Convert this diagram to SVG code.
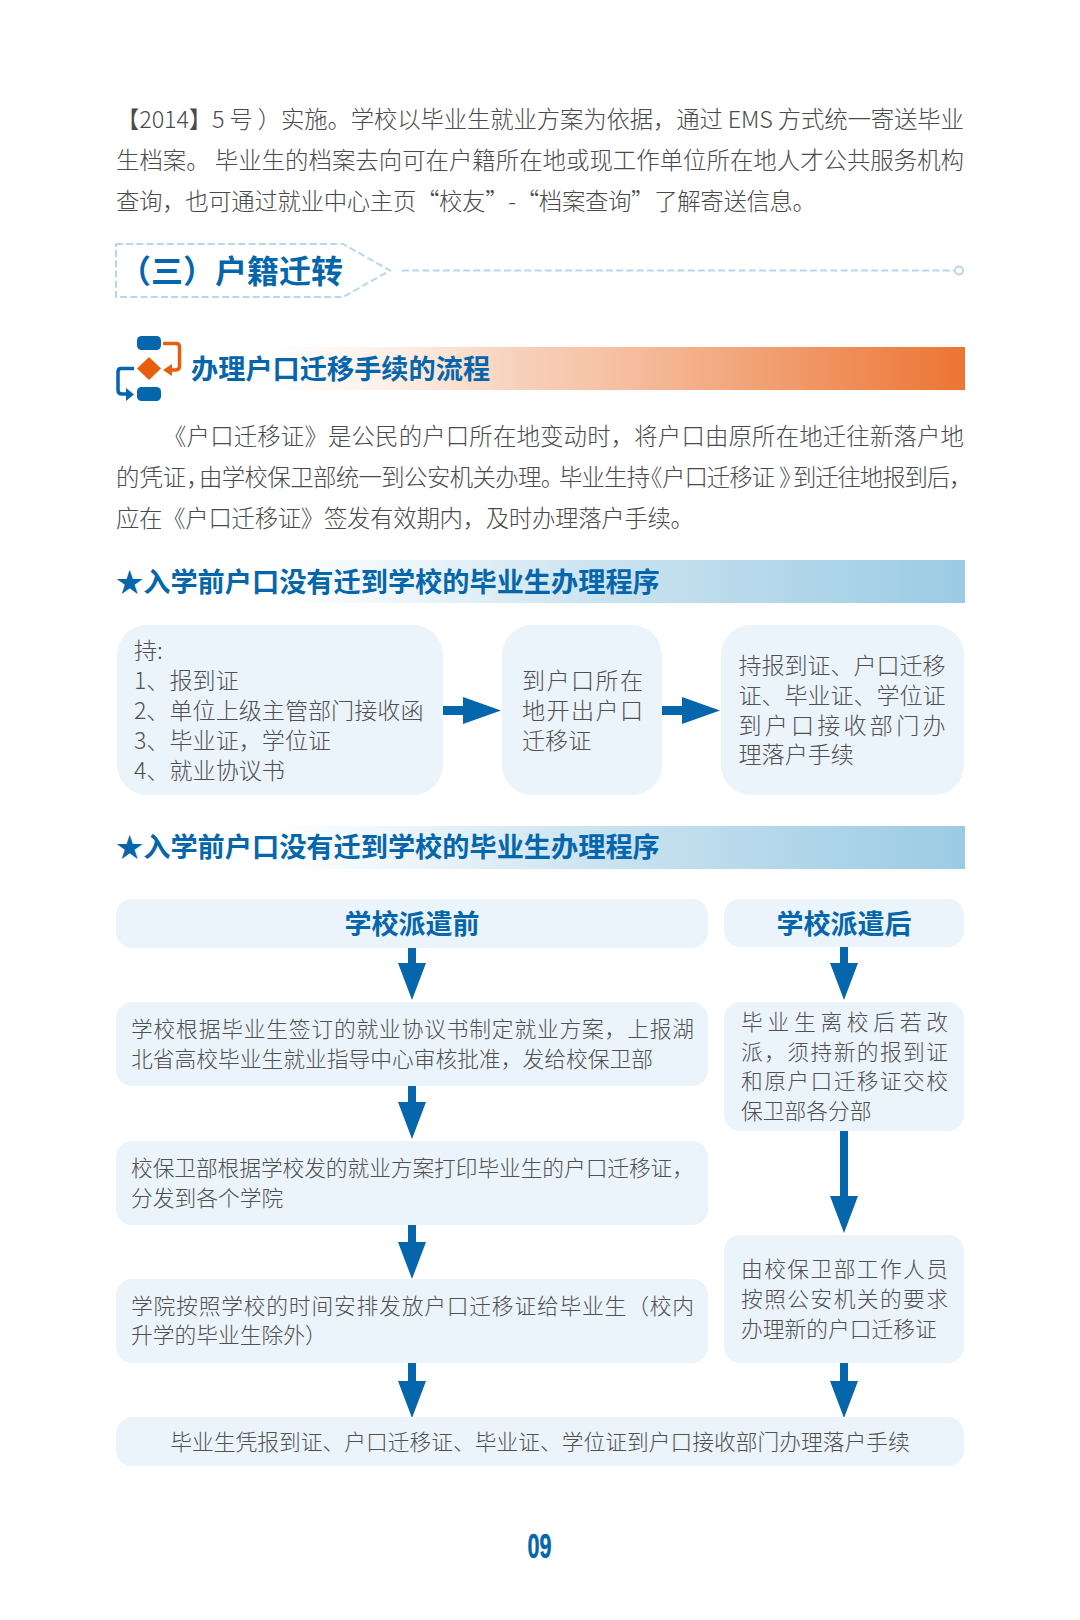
<svg xmlns="http://www.w3.org/2000/svg" width="1080" height="1620" viewBox="0 0 1080 1620">
<style>
text{font-family:"Noto Sans CJK SC","Noto Sans",sans-serif}
.b{font-size:23.4px;font-weight:300;fill:#4a4a4a}
.n{font-size:23.1px;font-weight:300;fill:#505050}
.s{font-size:21.75px;font-weight:300;fill:#505050}
.h{font-weight:700;fill:#0666ab}
.box{fill:#eaf4fa}
.a{fill:#0666ab}
.dash{fill:none;stroke:#b5d8ec;stroke-width:2;stroke-dasharray:7 3.2}
</style>
<defs>
<linearGradient id="og" gradientUnits="userSpaceOnUse" x1="270" y1="0" x2="965" y2="0"><stop offset="0" stop-color="#fff"/><stop offset=".187" stop-color="#fdeee5"/><stop offset=".36" stop-color="#f7d0ba"/><stop offset=".475" stop-color="#f6c3a7"/><stop offset="1" stop-color="#ec7533"/></linearGradient>
<linearGradient id="bg" gradientUnits="userSpaceOnUse" x1="116" y1="0" x2="965" y2="0"><stop offset="0" stop-color="#fff"/><stop offset=".18" stop-color="#fff"/><stop offset=".33" stop-color="#eef6fb"/><stop offset=".57" stop-color="#cbe3f0"/><stop offset="1" stop-color="#9bcbe4"/></linearGradient>
</defs>
<g id="intro">
<text class="b" x="116" y="128" textLength="848">【2014】5 号 ）实施。学校以毕业生就业方案为依据，通过 EMS 方式统一寄送毕业</text>
<text class="b" x="116" y="169" textLength="848">生档案。 毕业生的档案去向可在户籍所在地或现工作单位所在地人才公共服务机构</text>
<text class="b" x="116" y="210" textLength="700">查询，也可通过就业中心主页“校友”-“档案查询”了解寄送信息。</text>
</g>
<g id="section-title">
<path class="dash" d="M116 244H343L390 270.5L343 297H116Z"/>
<path class="dash" d="M402 270.5H954"/>
<circle cx="959" cy="270.5" r="4" fill="#fff" stroke="#b5d8ec" stroke-width="2"/>
<text class="h" x="119" y="283" font-size="32">（三）户籍迁转</text>
</g>
<g id="flow-heading">
<rect x="270" y="347" width="695" height="43" fill="url(#og)"/>
<rect x="137" y="336" width="24" height="14" rx="4.5" fill="#0666ab"/>
<rect x="137" y="387" width="24" height="14" rx="4.5" fill="#0666ab"/>
<path d="M149 357L161 368.5L149 380L137 368.5Z" fill="#e85e0f"/>
<path d="M163 343.500H176Q179.500 343.500 179.500 347V366Q179.500 370 175 370H170" fill="none" stroke="#e85e0f" stroke-width="3.500"/>
<path d="M163 370L172 364V376Z" fill="#e85e0f"/>
<path d="M134 368.500H121Q118 368.500 118 372V390Q118 394 122 394H128" fill="none" stroke="#0666ab" stroke-width="3.500"/>
<path d="M134 394.500L126 388V401Z" fill="#0666ab"/>
<text class="h" x="191" y="379" font-size="27.2">办理户口迁移手续的流程</text>
</g>
<g id="para">
<text class="b" x="163" y="444.500" textLength="801">《户口迁移证》是公民的户口所在地变动时，将户口由原所在地迁往新落户地</text>
<text class="b" y="486"><tspan x="116">的凭证，</tspan><tspan x="199" letter-spacing="-.6">由学校保卫部统一到公安机关办理。</tspan><tspan x="559" letter-spacing="-.9">毕业生持</tspan><tspan x="639">《</tspan><tspan x="662" letter-spacing="-1">户口迁移证</tspan><tspan x="779">》</tspan><tspan x="793" letter-spacing="-1.100">到迁往地报到后，</tspan></text>
<text class="b" x="116" y="527" textLength="578">应在《户口迁移证》签发有效期内，及时办理落户手续。</text>
</g>
<g id="heading-1">
<rect x="116" y="560" width="849" height="43" fill="url(#bg)"/>
<text class="h" x="116" y="592" font-size="27.2">★入学前户口没有迁到学校的毕业生办理程序</text>
</g>
<g id="heading-2">
<rect x="116" y="826" width="849" height="43" fill="url(#bg)"/>
<text class="h" x="116" y="857" font-size="27.2">★入学前户口没有迁到学校的毕业生办理程序</text>
</g>
<g id="connectors">
<path class="a" d="M443 706H463V697L501 710.500L463 724V715H443Z"/>
<path class="a" d="M662 706H682V697L720 710.500L682 724V715H662Z"/>
<path class="a" id="dl1" d="M408 948H416V963H426L412 1000L398 963H408Z"/>
<path class="a" d="M408 1086H416V1102H426L412 1139L398 1102H408Z"/>
<path class="a" d="M408 1225H416V1242H426L412 1279L398 1242H408Z"/>
<path class="a" d="M408 1363H416V1381H426L412 1418L398 1381H408Z"/>
<path class="a" d="M840 947H848V963H858L844 1000L830 963H840Z"/>
<path class="a" d="M840 1131H848V1196H858L844 1233L830 1196H840Z"/>
<path class="a" d="M840 1363H848V1381H858L844 1418L830 1381H840Z"/>
</g>
<g id="need"><rect class="box" x="117" y="625" width="326" height="170" rx="30"/>
<text class="n" x="134" y="659">持:</text>
<text class="n" x="134" y="689">1、报到证</text>
<text class="n" x="134" y="719">2、单位上级主管部门接收函</text>
<text class="n" x="134" y="749">3、毕业证，学位证</text>
<text class="n" x="134" y="779">4、就业协议书</text></g>
<g id="open"><rect class="box" x="502" y="625" width="160" height="170" rx="30"/>
<text class="n" x="522" y="689" textLength="121">到户口所在</text>
<text class="n" x="522" y="719" textLength="121">地开出户口</text>
<text class="n" x="522" y="749">迁移证</text></g>
<g id="settle"><rect class="box" x="721" y="625" width="243" height="170" rx="30"/>
<text class="n" x="738.500" y="674" textLength="207">持报到证、户口迁移</text>
<text class="n" x="738.500" y="704" textLength="207">证、毕业证、学位证</text>
<text class="n" x="738.500" y="734" textLength="207">到户口接收部门办</text>
<text class="n" x="738.500" y="763">理落户手续</text></g>
<g id="before"><rect class="box" x="116" y="899" width="592" height="49" rx="16"/>
<text class="h" x="412" y="934" font-size="27" text-anchor="middle">学校派遣前</text></g>
<g id="after"><rect class="box" x="724" y="899" width="240" height="48" rx="16"/>
<text class="h" x="844" y="934" font-size="27" text-anchor="middle">学校派遣后</text></g>
<g id="l1"><rect class="box" x="116" y="1002" width="592" height="84" rx="16"/>
<text class="s" x="131" y="1037" textLength="563">学校根据毕业生签订的就业协议书制定就业方案，上报湖</text>
<text class="s" x="131" y="1067">北省高校毕业生就业指导中心审核批准，发给校保卫部</text></g>
<g id="l2"><rect class="box" x="116" y="1141" width="592" height="84" rx="16"/>
<text class="s" x="131" y="1176" textLength="563">校保卫部根据学校发的就业方案打印毕业生的户口迁移证，</text>
<text class="s" x="131" y="1206">分发到各个学院</text></g>
<g id="l3"><rect class="box" x="116" y="1279" width="592" height="84" rx="16"/>
<text class="s" x="131" y="1314" textLength="563">学院按照学校的时间安排发放户口迁移证给毕业生（校内</text>
<text class="s" x="131" y="1343">升学的毕业生除外）</text></g>
<g id="r1"><rect class="box" x="724" y="1002" width="240" height="129" rx="16"/>
<text class="s" x="741" y="1030" textLength="207">毕业生离校后若改</text>
<text class="s" x="741" y="1060" textLength="207">派，须持新的报到证</text>
<text class="s" x="741" y="1089" textLength="207">和原户口迁移证交校</text>
<text class="s" x="741" y="1119">保卫部各分部</text></g>
<g id="r2"><rect class="box" x="724" y="1235" width="240" height="128" rx="16"/>
<text class="s" x="741" y="1277" textLength="207">由校保卫部工作人员</text>
<text class="s" x="741" y="1307" textLength="207">按照公安机关的要求</text>
<text class="s" x="741" y="1337">办理新的户口迁移证</text></g>
<g id="last"><rect class="box" x="116" y="1417" width="848" height="49" rx="16"/>
<text class="s" x="540" y="1450" text-anchor="middle">毕业生凭报到证、户口迁移证、毕业证、学位证到户口接收部门办理落户手续</text></g>
<text x="527.500" y="1558" font-size="35" font-weight="700" fill="#0666ab" stroke="#0666ab" stroke-width=".5" style="font-family:'Liberation Sans',sans-serif" textLength="24" lengthAdjust="spacingAndGlyphs">09</text>
</svg>
